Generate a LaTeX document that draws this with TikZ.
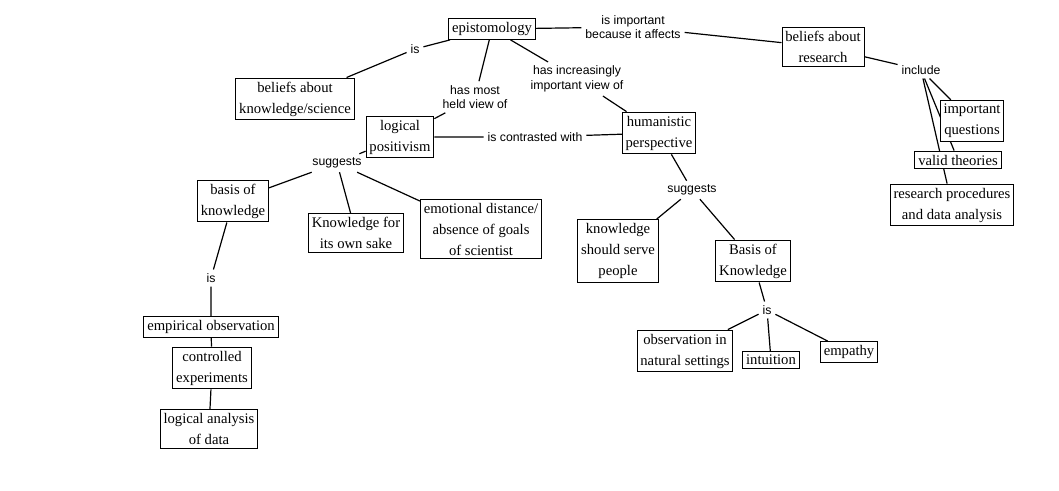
\documentclass[tikz,border=0pt]{standalone}
\usepackage{fontspec}
\setmainfont{Liberation Serif}
\setsansfont{Liberation Sans}
\usetikzlibrary{backgrounds}
\begin{document}
\begin{tikzpicture}[x=0.75pt,y=-0.75pt,
  concept/.style={draw=black,line width=0.75pt,fill=white,align=center,
    inner xsep=2.5pt,inner ysep=2.8pt,
    font=\fontsize{11pt}{15.75pt}\selectfont},
  link/.style={align=center,inner sep=2.8pt,
    font=\sffamily\fontsize{9.2pt}{11pt}\selectfont},
  conn/.style={draw=black,line width=0.9pt}]
\useasboundingbox (0,0) rectangle (1059,491);
% concepts
\node[concept] (epi) at (492,29) {epistomology};
\node[concept] (bks) at (295,99) {beliefs about\\knowledge/science};
\node[concept] (lp)  at (400,137) {logical\\positivism};
\node[concept] (hp)  at (659,133) {humanistic\\perspective};
\node[concept] (bar) at (823,47) {beliefs about\\research};
\node[concept] (iq)  at (972,121) {important\\questions};
\node[concept] (vt)  at (958,160) {valid theories};
\node[concept] (rp)  at (952,205) {research procedures\\and data analysis};
\node[concept] (bok) at (233,201) {basis of\\knowledge};
\node[concept] (kos) at (356,233) {Knowledge for\\its own sake};
\node[concept] (ed)  at (481,229) {emotional distance/\\absence of goals\\of scientist};
\node[concept] (eo)  at (211,327) {empirical observation};
\node[concept] (ce)  at (212,368) {controlled\\experiments};
\node[concept] (la)  at (209,429) {logical analysis\\of data};
\node[concept] (ksp) at (618,251) {knowledge\\should serve\\people};
\node[concept] (BoK) at (753,261) {Basis of\\Knowledge};
\node[concept] (ons) at (685,351) {observation in\\natural settings};
\node[concept] (int) at (771,360) {intuition};
\node[concept] (emp) at (849,352) {empathy};
% linking phrases
\node[link] (lis)  at (415,49) {is};
\node[link] (lhm)  at (475,97) {has most\\held view of};
\node[link] (lhi)  at (577,79) {has increasingly\\important view of};
\node[link] (lia)  at (633,27) {is important\\because it affects};
\node[link] (lcw)  at (535,137) {is contrasted with};
\node[link] (lsl)  at (337,163) {suggests};
\node[link] (linc) at (921,70) {include};
\node[link] (lsr)  at (692,190) {suggests};
\node[link] (lil)  at (211,278) {is};
\node[link] (lir)  at (767,310) {is};
% connectors
\begin{scope}[on background layer]
\draw[conn] (epi) -- (lis) -- (bks);
\draw[conn] (epi) -- (lhm) -- (lp);
\draw[conn] (epi) -- (lhi) -- (hp);
\draw[conn] (epi) -- (lia) -- (bar);
\draw[conn] (lp) -- (lcw) -- (hp);
\draw[conn] (bar) -- (linc);
\draw[conn] (linc) -- (iq);
\draw[conn] (linc) -- (vt);
\draw[conn] (linc) -- (rp);
\draw[conn] (lp) -- (lsl);
\draw[conn] (lsl) -- (bok);
\draw[conn] (lsl) -- (kos);
\draw[conn] (lsl) -- (ed);
\draw[conn] (bok) -- (lil) -- (eo);
\draw[conn] (eo) -- (ce) -- (la);
\draw[conn] (hp) -- (lsr);
\draw[conn] (lsr) -- (ksp);
\draw[conn] (lsr) -- (BoK);
\draw[conn] (BoK) -- (lir);
\draw[conn] (lir) -- (ons);
\draw[conn] (lir) -- (int);
\draw[conn] (lir) -- (emp);
\end{scope}
\end{tikzpicture}
\end{document}
